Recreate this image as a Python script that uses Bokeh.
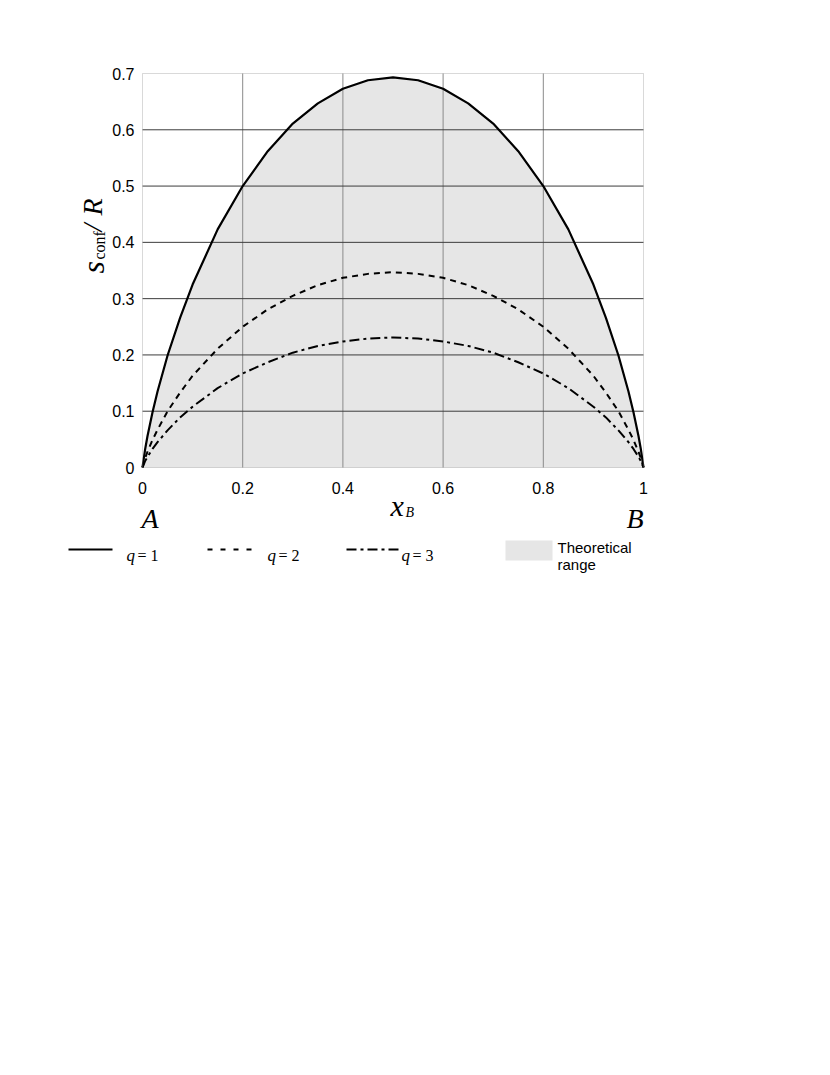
import math
from bokeh.plotting import figure
from bokeh.models import Range1d, FixedTicker, Label, BoxAnnotation
from bokeh.embed import file_html
from bokeh.resources import INLINE

# ---- data ----
x_b = [0, 0.005, 0.01, 0.02, 0.03, 0.05, 0.075, 0.1, 0.15, 0.2, 0.25, 0.3, 0.35, 0.4, 0.45, 0.5,
       0.55, 0.6, 0.65, 0.7, 0.75, 0.8, 0.85, 0.9, 0.925, 0.95, 0.97, 0.98, 0.99, 0.995, 1]
s_q1 = [0, 0.031, 0.056, 0.098, 0.135, 0.199, 0.266, 0.325, 0.423, 0.500, 0.562, 0.611, 0.647, 0.673, 0.688, 0.693,
        0.688, 0.673, 0.647, 0.611, 0.562, 0.500, 0.423, 0.325, 0.266, 0.199, 0.135, 0.098, 0.056, 0.031, 0]
s_q2 = [0, 0.016, 0.028, 0.049, 0.067, 0.100, 0.133, 0.163, 0.211, 0.250, 0.281, 0.305, 0.324, 0.337, 0.344, 0.347,
        0.344, 0.337, 0.324, 0.305, 0.281, 0.250, 0.211, 0.163, 0.133, 0.100, 0.067, 0.049, 0.028, 0.016, 0]
s_q3 = [0, 0.011, 0.019, 0.033, 0.045, 0.066, 0.089, 0.108, 0.141, 0.167, 0.187, 0.204, 0.216, 0.224, 0.229, 0.231,
        0.229, 0.224, 0.216, 0.204, 0.187, 0.167, 0.141, 0.108, 0.089, 0.066, 0.045, 0.033, 0.019, 0.011, 0]

x_ticks = [0, 0.2, 0.4, 0.6, 0.8, 1]
x_tick_labels = ["0", "0.2", "0.4", "0.6", "0.8", "1"]
y_ticks = [0, 0.1, 0.2, 0.3, 0.4, 0.5, 0.6, 0.7]
y_tick_labels = ["0", "0.1", "0.2", "0.3", "0.4", "0.5", "0.6", "0.7"]
x_grid_ticks = [0.2, 0.4, 0.6, 0.8]
y_grid_ticks = [0.1, 0.2, 0.3, 0.4, 0.5, 0.6]

legend_texts = ["= 1", "= 2", "= 3"]
range_label = ["Theoretical", "range"]

SERIF = "Liberation Serif"
SANS = "Liberation Sans"

# ---- layout: the plotting frame covers the whole canvas; the chart box is x 0..1, y 0..0.7 ----
W, H = 820, 600
BOX_L, BOX_R, BOX_T, BOX_B = 142, 643, 73, 467   # pixel position of the chart box
sx = (BOX_R - BOX_L) / 1.0
sy = (BOX_B - BOX_T) / 0.7


def px(x):
    return (x - BOX_L) / sx


def py(y):
    return (BOX_B - y) / sy


p = figure(width=W, height=H, min_border=0,
           x_range=Range1d(px(0), px(W)), y_range=Range1d(py(H), py(0)),
           output_backend="svg", toolbar_location=None,
           background_fill_color="white", border_fill_color="white")
p.outline_line_color = None
p.xgrid.visible = False
p.ygrid.visible = False

p.xaxis.fixed_location = 0
p.yaxis.fixed_location = 0
p.xaxis.bounds = (0, 1)
p.yaxis.bounds = (0, 0.7)
p.xaxis.ticker = FixedTicker(ticks=x_ticks)
p.yaxis.ticker = FixedTicker(ticks=y_ticks)
p.xaxis.major_label_overrides = {t: l for t, l in zip(x_ticks, x_tick_labels)}
p.yaxis.major_label_overrides = {t: l for t, l in zip(y_ticks, y_tick_labels)}
for ax in (p.xaxis, p.yaxis):
    ax.axis_line_color = None
    ax.major_tick_line_color = None
    ax.minor_tick_line_color = None
    ax.major_tick_out = 0
    ax.major_tick_in = 0
    ax.minor_tick_out = 0
    ax.major_label_text_font = SANS
    ax.major_label_text_font_size = "16px"
    ax.major_label_text_color = "black"
p.xaxis.major_label_standoff = 14
p.yaxis.major_label_standoff = 8

# filled theoretical range
p.varea(x=x_b, y1=[0] * len(x_b), y2=s_q1, fill_color="#e6e6e6", level="image")

# grid lines at the tick positions, spanning the chart box
p.segment(x0=x_grid_ticks, y0=[0] * len(x_grid_ticks), x1=x_grid_ticks, y1=[0.7] * len(x_grid_ticks),
          line_color="#8a8a8a", line_width=1, level="underlay")
p.segment(x0=[0] * len(y_grid_ticks), y0=y_grid_ticks, x1=[1] * len(y_grid_ticks), y1=y_grid_ticks,
          line_color="#3c3c3c", line_width=1, level="underlay")

p.line(x_b, s_q1, line_color="black", line_width=2.2)
p.line(x_b, s_q2, line_color="black", line_width=2, line_dash="6 5")
p.line(x_b, s_q3, line_color="black", line_width=2, line_dash="10 4 3 4")

p.add_layout(BoxAnnotation(left=0, right=1, bottom=0, top=0.7, fill_color=None,
                           line_color="#808080", line_width=1))


def lab(x, y, t, size, style="italic", font=SERIF, angle=0):
    p.add_layout(Label(x=px(x), y=py(y), text=t, text_font=font, text_font_size=size,
                       text_font_style=style, angle=angle, text_color="black",
                       text_align="left", text_baseline="alphabetic"))


# axis titles and end-member labels
lab(141, 518, "A", "28px")
lab(626, 518, "B", "28px")
lab(390, 505, "x", "30px")
lab(405, 512, "B", "14px")
lab(92, 273, "s", "32px", angle=math.pi / 2)
lab(99, 259, "conf", "16px", style="normal", angle=math.pi / 2)
lab(92, 231, "/", "28px", angle=math.pi / 2)
lab(92, 215, "R", "28px", angle=math.pi / 2)

# legend
LEG_Y = 549
p.line([px(68), px(112)], [py(LEG_Y)] * 2, line_color="black", line_width=2.2)
p.line([px(207), px(253)], [py(LEG_Y)] * 2, line_color="black", line_width=2, line_dash="5 8")
p.line([px(346), px(398)], [py(LEG_Y)] * 2, line_color="black", line_width=2, line_dash="10 4 3 4")
p.quad(left=[px(505)], right=[px(552)], top=[py(540)], bottom=[py(560)],
       fill_color="#e6e6e6", line_color=None)
for qx, t in zip([126, 267, 401], legend_texts):
    lab(qx, 555, "q", "17px")
    lab(qx + 11, 555, t, "16px", style="normal")
lab(557, 547, range_label[0], "15px", style="normal", font=SANS)
lab(557, 564, range_label[1], "15px", style="normal", font=SANS)

open("out.html", "w").write(file_html(p, INLINE))
